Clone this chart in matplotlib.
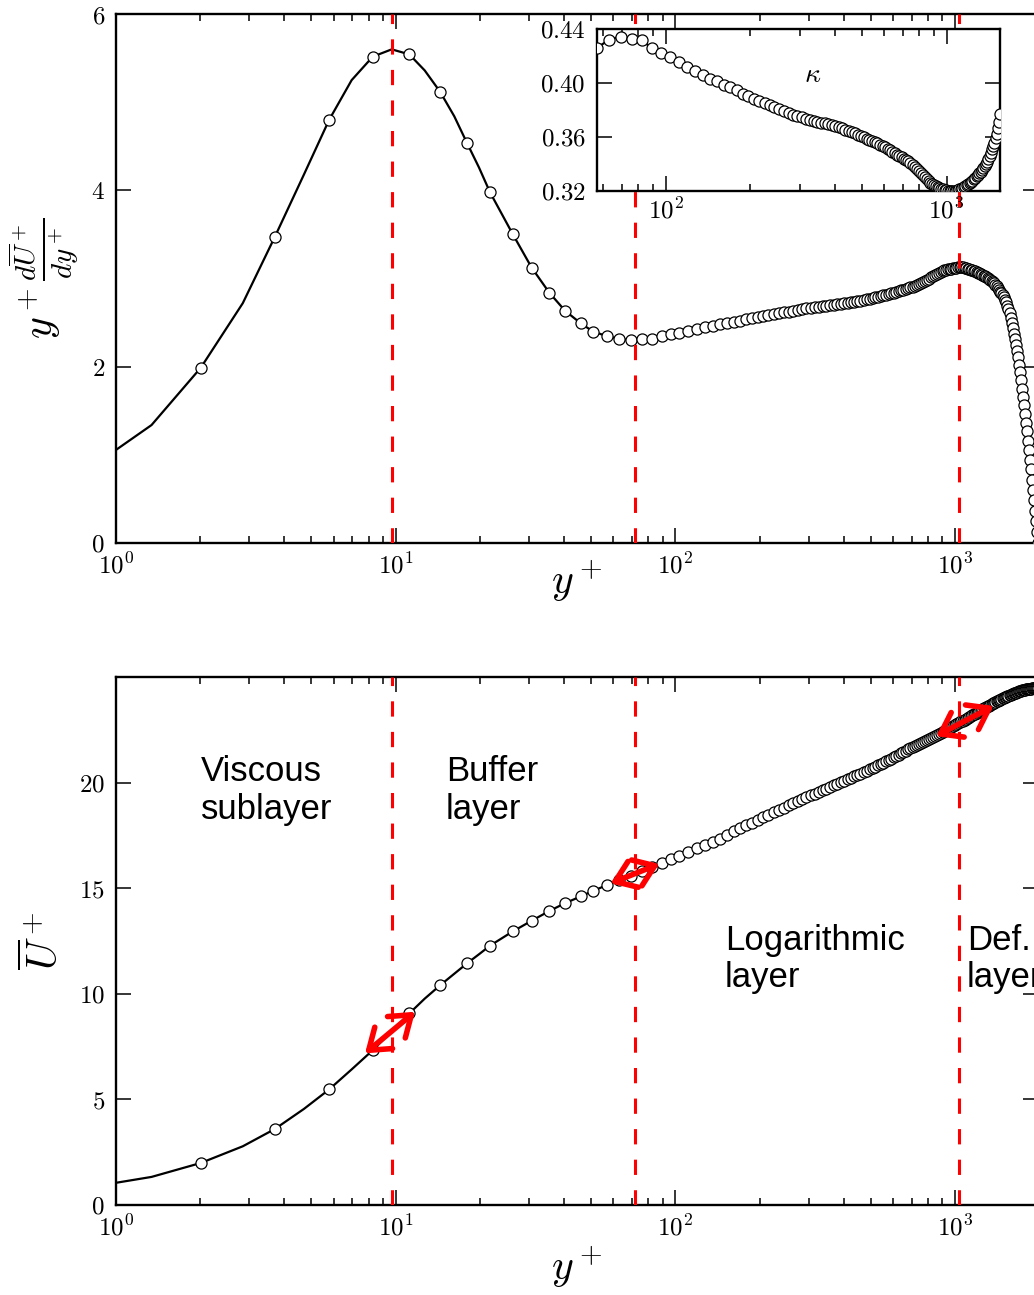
import numpy as np
import matplotlib
matplotlib.use('Agg')
import matplotlib.pyplot as plt
from matplotlib.ticker import FuncFormatter, LogLocator, NullFormatter

plt.rcParams['mathtext.fontset'] = 'cm'
plt.rcParams['font.family'] = ['DejaVu Serif']

# ---------------- data ----------------
yplus = [0.67, 1.34, 2.01, 2.84, 3.70, 4.70, 5.78, 6.96, 8.28, 9.68, 11.19, 12.70, 14.41, 16.20, 17.99, 19.85,
         21.75, 26.2, 30.64, 35.43, 40.32, 45.87, 50.9, 56.8, 63.1, 69.25, 75.8, 82.3, 89.4, 96.2, 103.3, 111.3,
         119.2, 127.6, 135.9,
         144, 153, 162, 170, 179, 188, 197, 206, 215, 225,
         235, 244, 254, 264, 274, 284, 294, 305, 315, 326,
         337, 347, 358, 369, 380, 391, 402, 414, 425, 436,
         448, 459, 471, 483, 495, 507, 519, 531, 543, 555,
         567, 580, 592, 604, 617, 629, 642, 654, 667, 680,
         692, 705, 718, 731, 744, 757, 770, 783, 796, 809,
         823, 836, 849, 863, 876, 890, 903, 917, 930, 944,
         958, 971, 985, 999, 1012, 1026, 1040, 1054, 1068, 1082,
         1096, 1110, 1124, 1138, 1152, 1166, 1180, 1194, 1209, 1223,
         1237, 1251, 1265, 1280, 1294, 1308, 1323, 1337, 1351, 1366,
         1380, 1394, 1409, 1423, 1438, 1452, 1466, 1481, 1495, 1510,
         1524, 1539, 1553, 1568, 1582, 1597, 1611, 1626, 1640, 1655,
         1669, 1684, 1698, 1713, 1727, 1742, 1756, 1771, 1785, 1800,
         1814, 1829, 1843, 1858, 1872, 1887, 1901, 1916, 1930, 1945,
         1959, 1974]

indicator = [0.67, 1.338, 1.988, 2.72, 3.474, 4.18, 4.798, 5.25, 5.516, 5.599, 5.542, 5.36, 5.119, 4.84, 4.537, 4.26,
             3.977, 3.505, 3.123, 2.839, 2.635, 2.492, 2.397, 2.348, 2.314, 2.302, 2.310, 2.317, 2.348, 2.370, 2.385,
             2.408, 2.427, 2.446, 2.465,
             2.48, 2.49, 2.51, 2.52, 2.535, 2.55, 2.56, 2.575, 2.585, 2.595,
             2.605, 2.615, 2.625, 2.635, 2.645, 2.655, 2.663, 2.67, 2.676, 2.682,
             2.688, 2.693, 2.698, 2.702, 2.707, 2.712, 2.717, 2.722, 2.73, 2.737,
             2.744, 2.75, 2.757, 2.764, 2.772, 2.78, 2.787, 2.794, 2.80, 2.808,
             2.815, 2.823, 2.831, 2.839, 2.848, 2.857, 2.866, 2.874, 2.882, 2.89,
             2.898, 2.907, 2.915, 2.925, 2.936, 2.948, 2.96, 2.973, 2.987, 3.0,
             3.015, 3.03, 3.043, 3.056, 3.067, 3.077, 3.085, 3.092, 3.098, 3.103,
             3.108, 3.113, 3.117, 3.121, 3.124, 3.127, 3.128, 3.127, 3.125, 3.122,
             3.118, 3.113, 3.108, 3.102, 3.096, 3.09, 3.083, 3.076, 3.068, 3.06,
             3.051, 3.042, 3.033, 3.023, 3.013, 3.003, 2.993, 2.982, 2.97, 2.957,
             2.944, 2.93, 2.91, 2.89, 2.87, 2.85, 2.83, 2.81, 2.785, 2.758,
             2.728, 2.693, 2.653, 2.605, 2.553, 2.495, 2.435, 2.373, 2.31, 2.245,
             2.178, 2.105, 2.02, 1.935, 1.845, 1.75, 1.655, 1.56, 1.465, 1.365,
             1.265, 1.16, 1.055, 0.945, 0.835, 0.72, 0.605, 0.485, 0.365, 0.245,
             0.125, 0.0]

uplus = [0.67, 1.33, 1.99, 2.78, 3.60, 4.55, 5.47, 6.42, 7.33, 8.22, 9.07, 9.77, 10.40, 10.95, 11.44, 11.87,
         12.28, 12.95, 13.46, 13.92, 14.29, 14.61, 14.88, 15.14, 15.38, 15.60, 15.81, 16.00, 16.19, 16.37, 16.54,
         16.72, 16.88, 17.04, 17.19,
         17.35, 17.53, 17.69, 17.83, 17.98, 18.11, 18.24, 18.36, 18.48, 18.60,
         18.72, 18.82, 18.93, 19.03, 19.13, 19.22, 19.31, 19.40, 19.48, 19.57,
         19.65, 19.72, 19.80, 19.87, 19.95, 20.02, 20.09, 20.16, 20.23, 20.29,
         20.37, 20.43, 20.50, 20.57, 20.63, 20.69, 20.76, 20.82, 20.88, 20.94,
         21.00, 21.08, 21.14, 21.20, 21.27, 21.33, 21.39, 21.45, 21.51, 21.57,
         21.62, 21.68, 21.74, 21.79, 21.84, 21.89, 21.94, 21.99, 22.03, 22.08,
         22.13, 22.17, 22.21, 22.26, 22.31, 22.36, 22.40, 22.45, 22.49, 22.54,
         22.59, 22.63, 22.67, 22.72, 22.76, 22.81, 22.85, 22.90, 22.94, 22.98,
         23.03, 23.07, 23.11, 23.15, 23.19, 23.23, 23.27, 23.31, 23.35, 23.39,
         23.43, 23.47, 23.51, 23.55, 23.58, 23.62, 23.65, 23.69, 23.72, 23.75,
         23.78, 23.81, 23.84, 23.87, 23.90, 23.93, 23.96, 23.99, 24.01, 24.04,
         24.06, 24.09, 24.11, 24.14, 24.16, 24.18, 24.20, 24.22, 24.24, 24.26,
         24.28, 24.30, 24.32, 24.34, 24.35, 24.37, 24.38, 24.39, 24.40, 24.41,
         24.42, 24.43, 24.44, 24.45, 24.455, 24.46, 24.465, 24.47, 24.473, 24.475,
         24.477, 24.478]

layer_bounds = [9.68, 71.8, 1030.0]          # red dashed lines
arrow_tails = [(7.77, 7.18), (58.7, 15.23), (857.0, 22.2)]
arrow_heads = [(11.73, 9.15), (87.6, 16.15), (1372.0, 23.63)]
region_labels = ["Viscous\nsublayer", "Buffer\nlayer", "Logarithmic\nlayer", "Def.\nlayer"]
region_label_pos = [(2.01, 18.3), (15.1, 18.3), (150.5, 10.3), (1104.0, 10.3)]   # last-line baselines
kappa_label_pos = (335.0, 0.4065)

yp = np.array(yplus)
ind = np.array(indicator)
up = np.array(uplus)
n = len(yp)
mark_idx = list(range(2, 16, 2)) + list(range(16, n))
kappa = 1.0 / ind[23:148]
yp_in = yp[23:148]

# ---------------- figure ----------------
W, H = 1034, 1295
fig = plt.figure(figsize=(W / 100, H / 100), dpi=100)

XMAX = 1975.0
ax_w = (279.67 * np.log10(XMAX)) / W
ax1 = fig.add_axes([116 / W, 1 - 543 / H, ax_w, 529 / H])
ax2 = fig.add_axes([116 / W, 1 - 1205 / H, ax_w, 528 / H])
axi = fig.add_axes([597 / W, 1 - 191 / H, 403 / W, 162 / H])

def logfmt(v, pos):
    return r'$10^{%d}$' % int(round(np.log10(v)))

line_kw = dict(color='black', lw=1.6, marker='o', ms=8.0, mfc='white', mec='black', mew=0.9, zorder=3)

def style(ax, yfmt, lab=18):
    ax.set_xscale('log')
    ax.xaxis.set_major_locator(LogLocator(base=10))
    ax.xaxis.set_minor_locator(LogLocator(base=10, subs=np.arange(2, 10)))
    ax.xaxis.set_major_formatter(FuncFormatter(logfmt))
    ax.xaxis.set_minor_formatter(NullFormatter())
    ax.yaxis.set_major_formatter(FuncFormatter(yfmt))
    ax.tick_params(which='both', direction='in', top=True, right=True, width=1.1)
    ax.tick_params(which='major', length=10.8, labelsize=lab)
    ax.tick_params(which='minor', length=5)
    ax.tick_params(axis='y', pad=8)
    ax.tick_params(axis='x', pad=7)
    for s in ax.spines.values():
        s.set_linewidth(1.7)

# top panel
ax1.plot(yp, ind, markevery=mark_idx, **line_kw)
for xb in layer_bounds:
    ax1.axvline(xb, color='red', lw=2.2, dashes=(5, 5), zorder=4)
ax1.set_xlim(1, XMAX)
ax1.set_ylim(0, 6)
ax1.set_yticks([0, 2, 4, 6])
style(ax1, lambda v, p: r'$%g$' % v)
ax1.set_xlabel(r'$y^+$', fontsize=30)
ax1.xaxis.set_label_coords(0.5, -0.03)
ax1.set_ylabel(r'$y^+\frac{d\overline{U}^+}{dy^+}$', fontsize=30)
ax1.yaxis.set_label_coords(-0.037, 0.5)

# bottom panel
ax2.plot(yp, up, markevery=mark_idx, **line_kw)
for xb in layer_bounds:
    ax2.axvline(xb, color='red', lw=2.2, dashes=(5, 5), zorder=4)
for (x0, y0), (x1, y1) in zip(arrow_tails, arrow_heads):
    ax2.annotate('', xy=(x1, y1), xytext=(x0, y0),
                 arrowprops=dict(arrowstyle='<->,head_length=0.7,head_width=0.5', color='red',
                                 lw=4, mutation_scale=20, shrinkA=0, shrinkB=0), zorder=6)
for txt, (tx, ty) in zip(region_labels, region_label_pos):
    ax2.text(tx, ty, txt, fontsize=25, ha='left', va='baseline', linespacing=1.17,
             family=['Liberation Sans', 'DejaVu Sans'], zorder=7)
ax2.set_xlim(1, XMAX)
ax2.set_ylim(0, 25)
ax2.set_yticks([0, 5, 10, 15, 20])
style(ax2, lambda v, p: r'$%g$' % v)
ax2.set_xlabel(r'$y^+$', fontsize=30)
ax2.xaxis.set_label_coords(0.5, -0.075)
ax2.set_ylabel(r'$\overline{U}^+$', fontsize=30)
ax2.yaxis.set_label_coords(-0.053, 0.5)

# inset
axi.plot(yp_in, kappa, **line_kw)
axi.set_xlim(57, 1550)
axi.set_ylim(0.32, 0.44)
axi.set_yticks([0.32, 0.36, 0.40, 0.44])
style(axi, lambda v, p: r'$%.2f$' % v)
axi.tick_params(axis='x', pad=5)
axi.text(kappa_label_pos[0], kappa_label_pos[1], r'$\kappa$', fontsize=20, ha='center', va='center')

fig.savefig('out.png', dpi=100)
